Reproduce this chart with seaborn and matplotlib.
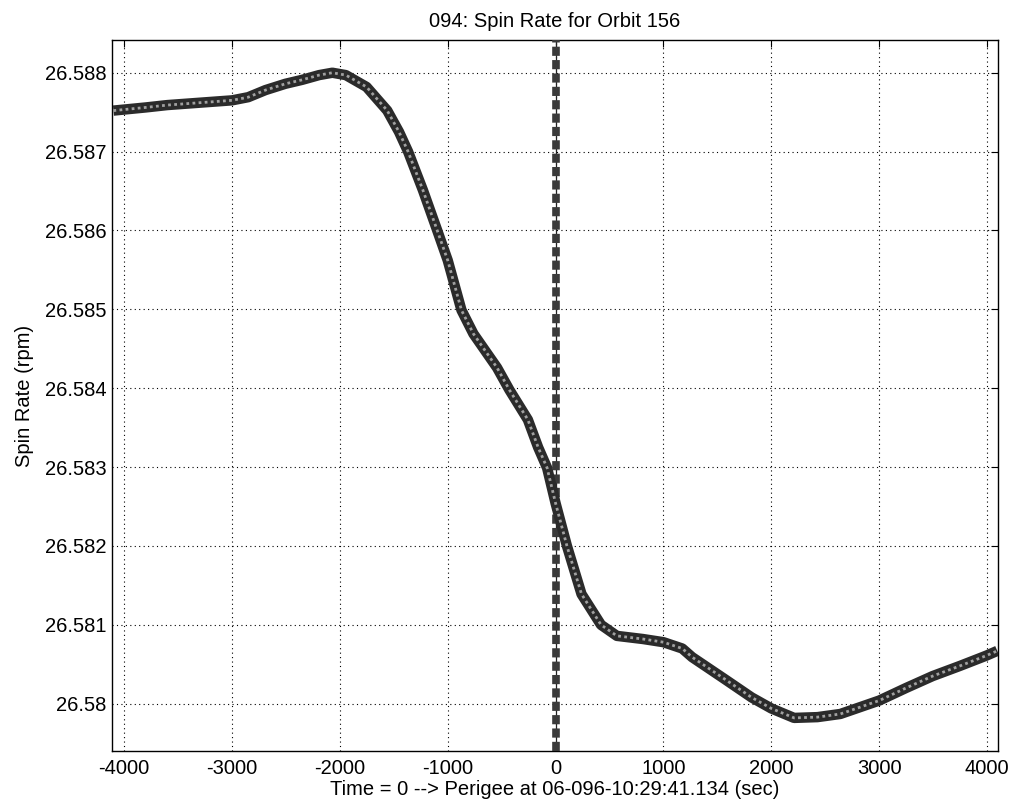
import matplotlib
matplotlib.use("Agg")
import matplotlib.pyplot as plt
import seaborn as sns
import pandas as pd
from matplotlib.ticker import FuncFormatter, FixedLocator

# ---- data ----
time_sec = [-4100, -3800, -3600, -3300, -3000, -2850, -2690, -2505, -2350, -2193,
            -2070, -1945, -1753, -1561, -1452, -1368, -1230, -1095, -1000, -873,
            -762, -543, -429, -257, -162, -79, 0, 105, 240, 421,
            568, 811, 1000, 1174, 1266, 1570, 1817, 2000, 2211, 2428,
            2640, 3000, 3250, 3495, 3750, 3994, 4095]
spin_rpm = [26.58752, 26.58756, 26.58759, 26.58762, 26.58765, 26.58769, 26.58778, 26.58786, 26.58791, 26.58797,
            26.58800, 26.58797, 26.58782, 26.58752, 26.58725, 26.58700, 26.58651, 26.58599, 26.58562, 26.58499,
            26.58469, 26.58426, 26.58398, 26.58360, 26.58325, 26.58299, 26.58254, 26.58200, 26.58139, 26.58100,
            26.58086, 26.58082, 26.58078, 26.58070, 26.58059, 26.58031, 26.58008, 26.57994, 26.57982, 26.57983,
            26.57987, 26.58004, 26.58020, 26.58035, 26.58048, 26.58061, 26.58067]
perigee_time = 0
x_ticks = [-4000, -3000, -2000, -1000, 0, 1000, 2000, 3000, 4000]
y_ticks = [26.580, 26.581, 26.582, 26.583, 26.584, 26.585, 26.586, 26.587, 26.588]

title = "094: Spin Rate for Orbit 156"
x_label = "Time = 0 --> Perigee at 06-096-10:29:41.134 (sec)"
y_label = "Spin Rate (rpm)"

df = pd.DataFrame({"t": time_sec, "rate": spin_rpm})

sns.set_style("white")
plt.rcParams["font.family"] = ["Liberation Sans", "DejaVu Sans"]
plt.rcParams["text.color"] = "black"
plt.rcParams["axes.labelcolor"] = "black"
FS = 14.5
plt.rcParams["font.size"] = FS

fig = plt.figure(figsize=(10.12, 8.08), dpi=100)
ax = fig.add_axes([0.111, 0.0705, 0.875, 0.8795])

# perigee marker line
ax.axvline(perigee_time, color="#222222", lw=0.9, zorder=2)
ax.axvline(perigee_time, color="#3a3a3a", lw=5.5, linestyle=(0, (1.2, 0.55)), zorder=3)

# curve: thick dark band with lighter speckled core
sns.lineplot(data=df, x="t", y="rate", ax=ax, color="#2b2b2b", lw=7.5, zorder=4,
             solid_capstyle="butt")
sns.lineplot(data=df, x="t", y="rate", ax=ax, color="#a0a0a0", lw=2, zorder=5,
             linestyle=(0, (1.0, 1.2)))

ax.set_xlim(-4110, 4100)
ax.set_ylim(26.57940, 26.58841)
ax.xaxis.set_major_locator(FixedLocator(x_ticks))
ax.yaxis.set_major_locator(FixedLocator(y_ticks))
ax.xaxis.set_major_formatter(FuncFormatter(lambda v, p: f"{int(round(v))}"))
ax.yaxis.set_major_formatter(FuncFormatter(lambda v, p: f"{v:.3f}".rstrip("0")))

ax.grid(True, color="black", linestyle=(0, (1, 3)), lw=0.8)
ax.tick_params(direction="in", length=5, width=0.8, top=True, right=True,
               labelsize=FS, colors="black")
ax.tick_params(axis="x", pad=6)
ax.tick_params(axis="y", pad=4)
for s in ax.spines.values():
    s.set_color("black")
    s.set_linewidth(1.0)

ax.set_title(title, fontsize=FS, pad=10, color="black")
ax.set_xlabel(x_label, fontsize=FS, labelpad=1, color="black")
ax.set_ylabel(y_label, fontsize=FS, labelpad=8, color="black")

fig.savefig("out.png", dpi=100)
